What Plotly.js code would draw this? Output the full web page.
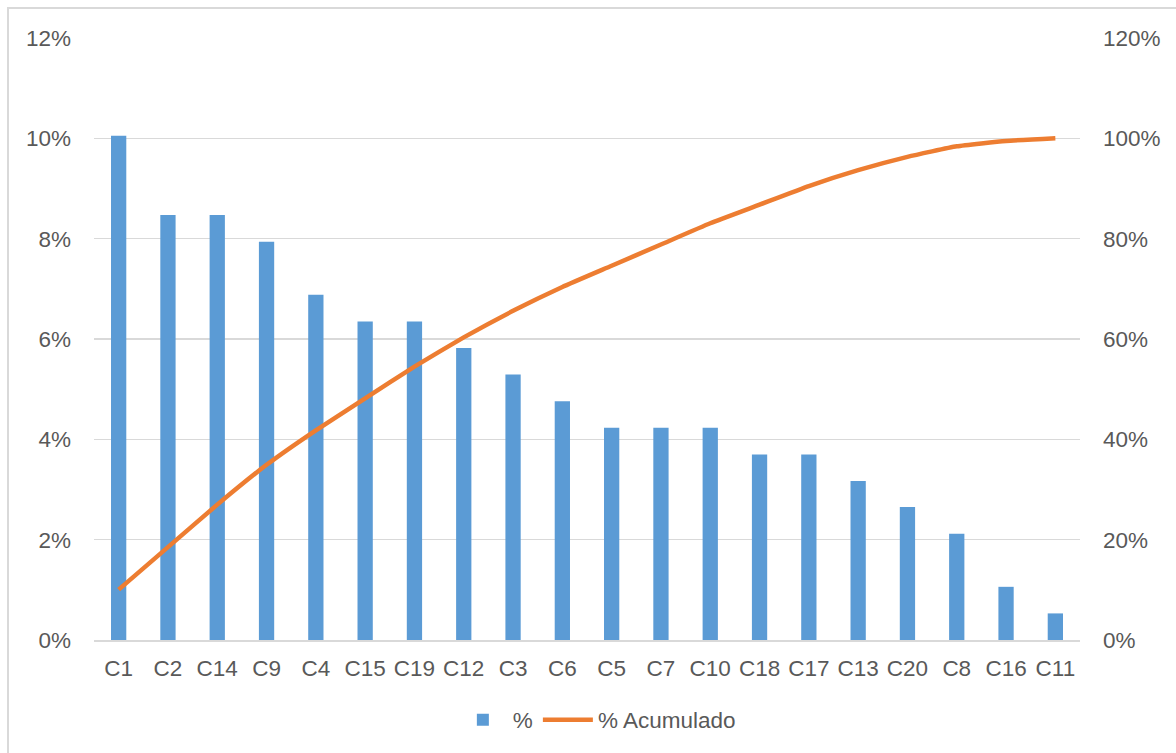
<!DOCTYPE html>
<html>
<head>
<meta charset="utf-8">
<script src="https://cdn.plot.ly/plotly-3.0.1.min.js"></script>
<style>
  html, body { margin: 0; padding: 0; background: #fff; }
  #wrap { position: relative; width: 1176px; height: 753px; overflow: hidden; }
  #chart { width: 1176px; height: 753px; }
  #frame { position: absolute; left: 7px; top: 7px; width: 1300px; height: 900px;
           border: 2px solid #d9d9d9; pointer-events: none; box-sizing: border-box; }
</style>
</head>
<body>
<div id="wrap">
  <div id="chart"></div>
  <div id="frame"></div>
</div>
<script>
const categories = ["C1","C2","C14","C9","C4","C15","C19","C12","C3","C6","C5","C7","C10","C18","C17","C13","C20","C8","C16","C11"];
const pct = [0.1005,0.0847,0.0847,0.0794,0.0688,0.0635,0.0635,0.0582,0.0529,0.0476,0.0423,0.0423,0.0423,0.0370,0.0370,0.0317,0.0265,0.0212,0.0106,0.0053];
const pctAcumulado = [0.1005,0.1852,0.2698,0.3492,0.4180,0.4815,0.5450,0.6032,0.6561,0.7037,0.7460,0.7884,0.8307,0.8677,0.9048,0.9365,0.9630,0.9841,0.9947,1.0000];
const leftTicks = [0,0.02,0.04,0.06,0.08,0.10,0.12];
const rightTicks = [0,0.2,0.4,0.6,0.8,1.0,1.2];

const fontFam = "Liberation Sans, Arial, sans-serif";
const textColor = "#595959";
const gridColor = "#d9d9d9";
const fs = 22.5;

const traces = [
  {
    type: "bar", name: "%", x: categories, y: pct,
    marker: { color: "#5B9BD5" }, yaxis: "y", hoverinfo: "x+y"
  },
  {
    type: "scatter", mode: "lines", name: "% Acumulado", x: categories, y: pctAcumulado,
    line: { color: "#ED7D31", width: 4.5, shape: "spline", smoothing: 0.4 }, yaxis: "y2"
  }
];

const layout = {
  width: 1176, height: 753,
  margin: { l: 94, r: 96, t: 38, b: 111 },
  paper_bgcolor: "#ffffff", plot_bgcolor: "#ffffff",
  font: { family: fontFam, size: fs, color: textColor },
  bargap: 0.69,
  showlegend: true,
  legend: {
    orientation: "h", x: 0.51, xanchor: "center", y: -0.133, yanchor: "middle",
    font: { family: fontFam, size: fs, color: textColor },
    traceorder: "normal", itemwidth: 50
  },
  xaxis: {
    type: "category", showgrid: false, zeroline: false,
    showline: true, linecolor: gridColor, linewidth: 2,
    ticks: "", tickfont: { family: fontFam, size: fs, color: textColor },
    ticklabelstandoff: 7, fixedrange: true
  },
  yaxis: {
    range: [0, 0.12], tickvals: leftTicks, tickformat: ".0%",
    showgrid: true, gridcolor: gridColor, gridwidth: 1.5,
    zeroline: false, showline: false, ticks: "",
    tickfont: { family: fontFam, size: fs, color: textColor },
    ticklabelstandoff: 22, fixedrange: true
  },
  yaxis2: {
    range: [0, 1.2], tickvals: rightTicks, tickformat: ".0%",
    overlaying: "y", side: "right", showgrid: false, zeroline: false,
    showline: false, ticks: "",
    tickfont: { family: fontFam, size: fs, color: textColor },
    ticklabelstandoff: 22, fixedrange: true
  }
};

Plotly.newPlot("chart", traces, layout, { displayModeBar: false, staticPlot: true });
</script>
</body>
</html>
